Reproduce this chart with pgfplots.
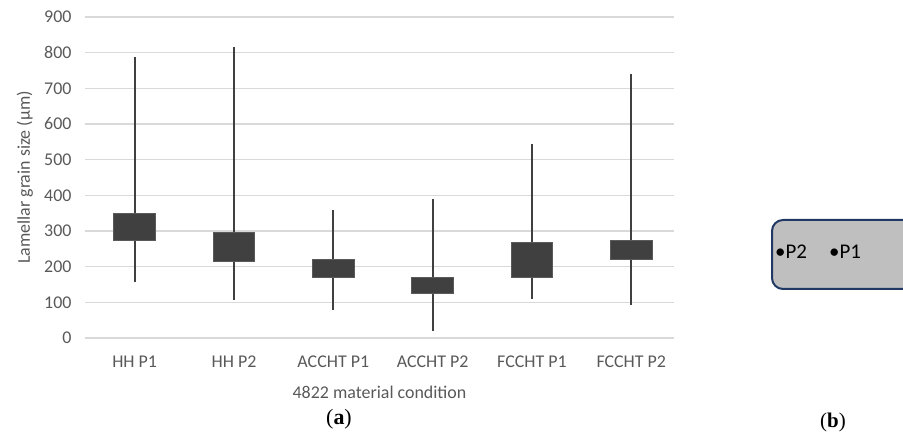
\documentclass[border=0pt]{standalone}
\usepackage{fontspec}
\setmainfont{Carlito}
\newfontfamily\seriffont{Liberation Serif}
\usepackage{pgfplots}
\pgfplotsset{compat=1.18}
\definecolor{boxc}{HTML}{404040}
\definecolor{boxedge}{HTML}{5A5A5A}
\definecolor{tickgray}{HTML}{595959}
\definecolor{gridc}{HTML}{D9D9D9}
\definecolor{navy}{HTML}{1F3864}
\definecolor{panelgray}{HTML}{BFBFBF}
\begin{document}
\begin{tikzpicture}
\useasboundingbox (0bp,0bp) rectangle (903bp,434bp);
\begin{axis}[
  at={(85bp,96bp)}, anchor=south west,
  scale only axis, width=589bp, height=321bp,
  xmin=-0.5, xmax=5.43, ymin=0, ymax=900,
  xtick={0,1,2,3,4,5},
  xticklabels={HH P1,HH P2,ACCHT P1,ACCHT P2,FCCHT P1,FCCHT P2},
  ytick={0,100,...,900},
  ymajorgrids, grid style={draw=gridc, line width=1.3bp},
  axis line style={draw=none},
  major tick length=0pt,
  /pgf/number format/assume math mode=true,
  tick label style={font=\fontsize{18}{20}\selectfont, text=tickgray},
  yticklabel style={xshift=-10bp},
  xticklabel style={yshift=-14bp},
  label style={font=\fontsize{18}{20}\selectfont, text=tickgray},
  xlabel={4822 material condition},
  xlabel style={at={(axis description cs:0.5,0)}, anchor=north, yshift=-45bp},
  ylabel={Lamellar grain size (µm)},
  ylabel style={at={(axis description cs:-0.1019,0.5)}, anchor=center},
  whisk/.style={draw=boxc, line width=2bp, mark=none},
  bx/.style={draw=boxedge, fill=boxc, line width=1bp, mark=none},
]
% whiskers: (x, low) (x, high)
\addplot[whisk] coordinates {(0,156) (0,787)};
\addplot[whisk] coordinates {(1,107) (1,816)};
\addplot[whisk] coordinates {(2,78) (2,359)};
\addplot[whisk] coordinates {(3,21) (3,389)};
\addplot[whisk] coordinates {(4,110) (4,544)};
\addplot[whisk] coordinates {(5,92) (5,740)};
% boxes: lower and upper quartile, half width 0.21
\addplot[bx] coordinates {(-0.21,272) (0.21,272) (0.21,350) (-0.21,350)} -- cycle;
\addplot[bx] coordinates {(0.79,215) (1.21,215) (1.21,296) (0.79,296)} -- cycle;
\addplot[bx] coordinates {(1.79,170) (2.21,170) (2.21,221) (1.79,221)} -- cycle;
\addplot[bx] coordinates {(2.79,126) (3.21,126) (3.21,170) (2.79,170)} -- cycle;
\addplot[bx] coordinates {(3.79,170) (4.21,170) (4.21,267) (3.79,267)} -- cycle;
\addplot[bx] coordinates {(4.79,221) (5.21,221) (5.21,273) (4.79,273)} -- cycle;
\end{axis}
\node[font=\seriffont\fontsize{22}{24}\selectfont] at (339bp,15bp) {({\bfseries a})};
\node[font=\seriffont\fontsize{21}{23}\selectfont] at (833bp,12bp) {({\bfseries b})};
\draw[rounded corners=11bp, draw=navy, line width=2bp, fill=panelgray] (772bp,145bp) rectangle (940bp,214bp);
\node[anchor=west, font=\fontsize{21}{23}\selectfont, inner sep=0pt] at (775bp,182bp) {•P2};
\node[anchor=west, font=\fontsize{21}{23}\selectfont, inner sep=0pt] at (829bp,182bp) {•P1};
\end{tikzpicture}
\end{document}
